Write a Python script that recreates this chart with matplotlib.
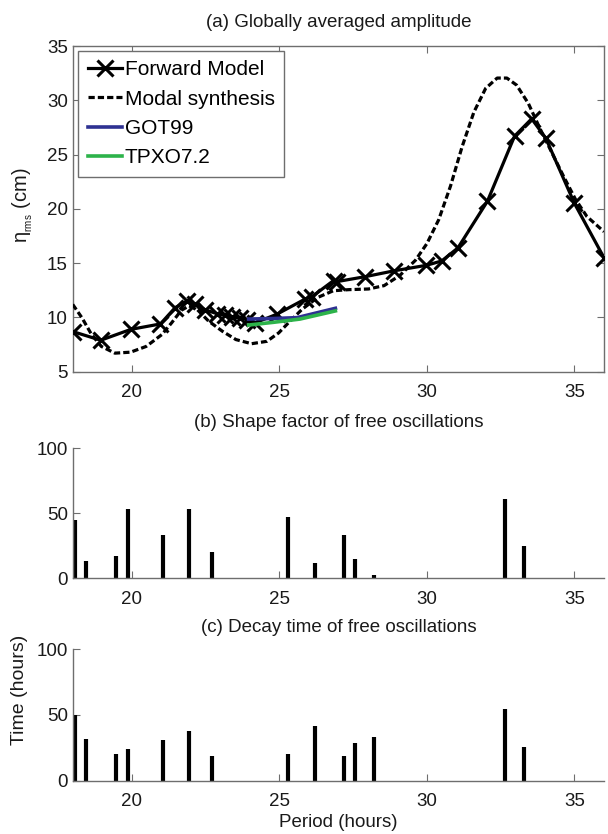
import matplotlib
matplotlib.use("Agg")
import matplotlib.pyplot as plt

plt.rcParams["font.family"] = ["Liberation Sans", "DejaVu Sans"]
plt.rcParams["mathtext.fontset"] = "custom"
plt.rcParams["mathtext.rm"] = "Liberation Sans"
plt.rcParams["mathtext.it"] = "Liberation Sans"
plt.rcParams["lines.scale_dashes"] = False

# ---- (a) globally averaged amplitude ----
fwd_period = [18.0, 18.95, 19.97, 20.97, 21.47, 21.87, 22.15, 22.49, 22.88, 23.17,
              23.39, 23.68, 23.9, 24.18, 24.92, 25.88, 26.1, 26.84, 26.95, 27.9,
              28.9, 29.98, 30.5, 31.05, 32.05, 32.97, 33.55, 34.03, 35.0, 36.0]
fwd_amp = [8.7, 7.9, 8.9, 9.4, 10.9, 11.5, 11.2, 10.7, 10.35, 10.2,
           10.05, 9.95, 9.8, 9.5, 10.3, 11.7, 11.9, 13.4, 13.3, 13.75,
           14.3, 14.8, 15.2, 16.4, 20.7, 26.7, 28.3, 26.5, 20.5, 15.5]

modal_period = [18.0, 18.31, 18.64, 18.97, 19.43, 19.96, 20.49, 21.02, 21.35, 21.68,
                21.94, 22.21, 22.6, 23.07, 23.53, 24.06, 24.58, 24.98, 25.31, 25.77,
                26.3, 26.83, 27.36, 28.02, 28.55, 29.08, 29.61, 30.0, 30.4, 30.8,
                31.19, 31.59, 31.99, 32.38, 32.71, 33.04, 33.44, 33.83, 34.23, 34.63,
                35.03, 35.42, 36.0]
modal_amp = [11.2, 9.98, 8.42, 7.33, 6.71, 6.8, 7.33, 8.42, 9.5, 10.66,
             11.06, 10.75, 9.67, 8.73, 7.96, 7.58, 7.8, 8.58, 9.51, 10.75,
             11.84, 12.46, 12.56, 12.62, 12.93, 13.86, 15.26, 16.8, 19.0, 22.1,
             25.7, 28.9, 31.1, 32.05, 32.05, 31.4, 29.7, 27.4, 25.2, 23.0,
             20.9, 19.3, 17.9]

got_period = [23.96, 24.8, 25.6, 26.9]
got_amp = [9.85, 9.9, 9.98, 10.84]
tpxo_period = [23.96, 24.8, 25.7, 26.9]
tpxo_amp = [9.3, 9.55, 9.85, 10.6]

# ---- (b)/(c) free oscillations ----
osc_period = [18.07, 18.45, 19.45, 19.87, 21.05, 21.93, 22.72, 25.3, 26.2, 27.18,
              27.57, 28.2, 32.65, 33.28]
shape_factor = [45, 13, 17, 53, 33, 53.5, 20.5, 47, 11.5, 33,
                15, 2.6, 61, 25]
decay_time = [50, 32, 20.5, 24, 31, 37.5, 19, 20.5, 42, 19,
              28.5, 33, 54.5, 26]

period_ticks = [20, 25, 30, 35]
spine_col = "#6e6e6e"
txt_col = "#1a1a1a"
fs = 13.5

fig = plt.figure(figsize=(6.08, 8.34), dpi=100)
ax1 = fig.add_axes([0.1196, 0.5543, 0.8738, 0.3905])
ax2 = fig.add_axes([0.1196, 0.3066, 0.8738, 0.1559])
ax3 = fig.add_axes([0.1196, 0.0639, 0.8738, 0.1576])

ax1.plot(fwd_period, fwd_amp, color="black", lw=2.3, marker="x", ms=11, mew=2.2,
         label="Forward Model", zorder=4)
ax1.plot(modal_period, modal_amp, color="black", lw=2.3, dashes=(4.5, 2.2),
         label="Modal synthesis", zorder=3)
ax1.plot(got_period, got_amp, color="#2e3192", lw=2.6, label="GOT99", zorder=5)
ax1.plot(tpxo_period, tpxo_amp, color="#2db34a", lw=2.6, label="TPXO7.2", zorder=5)
ax1.set_xlim(18, 36)
ax1.set_ylim(5, 35)
ax1.set_yticks([5, 10, 15, 20, 25, 30, 35])
ax1.set_title("(a) Globally averaged amplitude", fontsize=fs, color=txt_col, pad=14)
ax1.set_ylabel("η$_{_{rms}}$ (cm)", fontsize=fs + 1, color=txt_col)
ax1.yaxis.set_label_coords(-0.071, 0.51)
leg = ax1.legend(loc="upper left", bbox_to_anchor=(0.0105, 0.9856), borderaxespad=0,
                 fontsize=15, fancybox=False, framealpha=1, edgecolor=spine_col,
                 handlelength=1.65, handletextpad=0.12, labelspacing=0.5,
                 borderpad=0.45)
leg.get_frame().set_linewidth(1.0)
ax1.tick_params(direction="in", top=True, right=True, length=5, width=0.8,
                color=spine_col, labelsize=fs, labelcolor=txt_col)
for sp in ax1.spines.values():
    sp.set_color(spine_col)
    sp.set_linewidth(1.0)

ax2.vlines(osc_period, 0, shape_factor, color="black", lw=3)
ax2.set_title("(b) Shape factor of free oscillations", fontsize=fs, color=txt_col, pad=15)
ax3.vlines(osc_period, 0, decay_time, color="black", lw=3)
ax3.set_title("(c) Decay time of free oscillations", fontsize=fs, color=txt_col, pad=12.5)
ax3.set_ylabel("Time (hours)", fontsize=fs + 0.5, color=txt_col)
ax3.yaxis.set_label_coords(-0.085, 0.69)
ax3.set_xlabel("Period (hours)", fontsize=fs, color=txt_col, labelpad=3)

for ax in (ax1, ax2, ax3):
    ax.set_xlim(18, 36)
    ax.set_xticks(period_ticks)
for ax in (ax2, ax3):
    ax.set_ylim(0, 100)
    ax.set_yticks([0, 50, 100])
    ax.spines["top"].set_visible(False)
    ax.spines["right"].set_visible(False)
    for sp in ("left", "bottom"):
        ax.spines[sp].set_color(spine_col)
        ax.spines[sp].set_linewidth(1.0)
    ax.tick_params(direction="in", length=5, width=0.8, color=spine_col,
                   labelsize=fs, labelcolor=txt_col)
for ax in (ax1, ax2, ax3):
    ax.tick_params(axis="x", pad=9)

fig.savefig("out.png", dpi=100)
